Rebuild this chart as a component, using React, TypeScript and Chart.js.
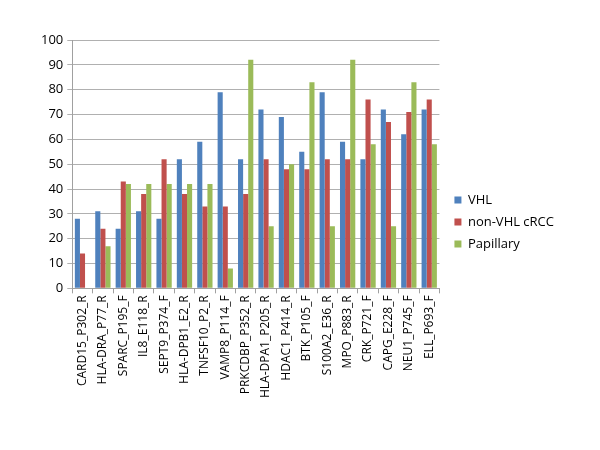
import React, { useEffect, useRef } from "react";
import { Chart, registerables } from "chart.js";

Chart.register(...registerables);

const categories = [
  "CARD15_P302_R", "HLA-DRA_P77_R", "SPARC_P195_F", "IL8_E118_R", "SEPT9_P374_F",
  "HLA-DPB1_E2_R", "TNFSF10_P2_R", "VAMP8_P114_F", "PRKCDBP_P352_R", "HLA-DPA1_P205_R",
  "HDAC1_P414_R", "BTK_P105_F", "S100A2_E36_R", "MPO_P883_R", "CRK_P721_F",
  "CAPG_E228_F", "NEU1_P745_F", "ELL_P693_F",
];
const vhl = [28, 31, 24, 31, 28, 52, 59, 79, 52, 72, 69, 55, 79, 59, 52, 72, 62, 72];
const nonVhl = [14, 24, 43, 38, 52, 38, 33, 33, 38, 52, 48, 48, 52, 52, 76, 67, 71, 76];
const papillary = [0, 17, 42, 42, 42, 42, 42, 8, 92, 25, 50, 83, 25, 92, 58, 25, 83, 58];
const seriesNames = ["VHL", "non-VHL cRCC", "Papillary"];
const yTicks = [0, 10, 20, 30, 40, 50, 60, 70, 80, 90, 100];

const FONT = "Open Sans";

const shiftLegend = {
  id: "shiftLegend",
  afterLayout(chart: any) {
    const lg = chart.legend;
    if (!lg) return;
    lg.left += 6;
    lg.right += 6;
    lg.top += 2;
    lg.bottom += 2;
  },
};

export default function App() {
  const ref = useRef<HTMLCanvasElement | null>(null);
  useEffect(() => {
    if (!ref.current) return;
    const chart = new Chart(ref.current, {
      type: "bar",
      data: {
        labels: categories,
        datasets: [
          { label: seriesNames[0], data: vhl, backgroundColor: "#4F81BD" },
          { label: seriesNames[1], data: nonVhl, backgroundColor: "#C0504D" },
          { label: seriesNames[2], data: papillary, backgroundColor: "#9BBB59" },
        ],
      },
      plugins: [shiftLegend],
      options: {
        responsive: false,
        animation: false,
        layout: { padding: { top: 40, left: 37, right: 42, bottom: 50 } },
        datasets: { bar: { categoryPercentage: 0.75, barPercentage: 1 } },
        plugins: {
          tooltip: { enabled: false },
          legend: {
            position: "right",
            labels: {
              boxWidth: 7,
              boxHeight: 7,
              padding: 9,
              color: "#000",
              font: { family: FONT, size: 13 },
            },
          },
        },
        scales: {
          x: {
            grid: { drawOnChartArea: false, drawTicks: true, tickLength: 5, color: "#A0A0A0" },
            border: { color: "#A0A0A0" },
            ticks: {
              minRotation: 90,
              maxRotation: 90,
              autoSkip: false,
              color: "#000",
              padding: 2,
              font: { family: FONT, size: 12 },
            },
          },
          y: {
            min: 0,
            max: 100,
            afterBuildTicks: (axis: any) => {
              axis.ticks = yTicks.map((v) => ({ value: v }));
            },
            grid: { color: "#B0B0B0", tickLength: 5 },
            border: { color: "#A0A0A0" },
            ticks: {
              color: "#000",
              padding: 4,
              font: { family: FONT, size: 13 },
            },
          },
        },
      },
    });
    return () => chart.destroy();
  }, []);
  return (
    <div style={{ position: "absolute", left: 0, top: 0, width: 600, height: 450, background: "#fff" }}>
      <canvas ref={ref} width={600} height={450} />
    </div>
  );
}
